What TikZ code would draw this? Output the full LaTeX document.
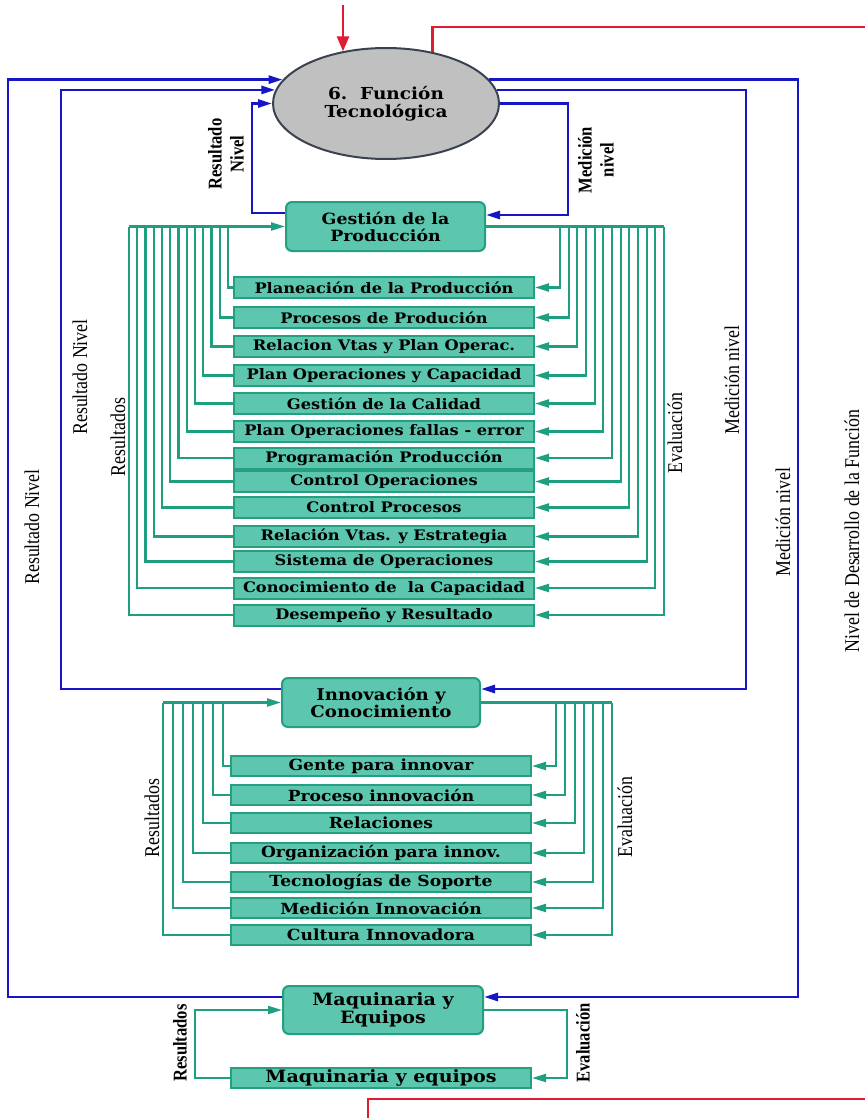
\documentclass[tikz,border=0pt]{standalone}
\usepackage{fontspec}
\setmainfont{Liberation Serif}
\newfontfamily\boxfont{DejaVu Serif}[FakeStretch=1.12]
\newfontfamily\lblfont{Liberation Serif}[FakeStretch=0.85]
\usetikzlibrary{arrows.meta,shapes.geometric}

\definecolor{flowblue}{RGB}{22,22,200}
\definecolor{flowgreen}{RGB}{30,160,128}
\definecolor{boxfill}{RGB}{92,198,174}
\definecolor{boxedge}{RGB}{38,158,128}
\definecolor{flowred}{RGB}{226,28,48}
\definecolor{ovalfill}{RGB}{192,192,192}
\definecolor{ovaledge}{RGB}{58,66,78}

\begin{document}
\begin{tikzpicture}[x=1pt,y=-1pt,
  bline/.style={draw=flowblue,line width=2.8pt},
  gline/.style={draw=flowgreen,line width=2.2pt},
  rline/.style={draw=flowred,line width=2.8pt},
  tip/.style={-{Triangle[length=14pt,width=8pt]}},
  mainbox/.style={draw=boxedge,fill=boxfill,line width=2pt,rounded corners=6pt,
    minimum width=199pt,minimum height=49pt,inner sep=0pt,align=center,
    font=\boxfont\bfseries\fontsize{15.5}{17}\selectfont},
  subbox/.style={draw=boxedge,fill=boxfill,line width=2pt,
    minimum width=300pt,minimum height=21pt,inner sep=0pt,
    font=\boxfont\bfseries\fontsize{14.5}{15}\selectfont},
  innitem/.style={subbox,minimum height=20pt,
    font=\boxfont\bfseries\fontsize{15.3}{16}\selectfont},
  lbl/.style={rotate=90,inner sep=0pt,font=\lblfont\fontsize{21}{22}\selectfont},
  blbl/.style={rotate=90,inner sep=0pt,align=center,
    font=\lblfont\bfseries\fontsize{19.5}{22}\selectfont},
]
\useasboundingbox (0,0) rectangle (865,1118);

% ---- central function
\node[ellipse,draw=ovaledge,fill=ovalfill,line width=2pt,minimum width=226pt,
  minimum height=111pt,inner sep=0pt,align=center,
  font=\boxfont\bfseries\fontsize{16.5}{18}\selectfont] (e) at (386,103.5)
  {6.\ \ Función\\Tecnológica};

% ---- main blocks
\node[mainbox] (gest) at (385.5,226.5) {Gestión de la\\Producción};
\node[mainbox,minimum width=198pt,font=\boxfont\bfseries\fontsize{16.2}{17}\selectfont]
  (inn) at (381,702.5) {Innovación y\\Conocimiento};
\node[mainbox,minimum width=200pt,minimum height=48pt,
  font=\boxfont\bfseries\fontsize{17}{17.5}\selectfont]
  (maq) at (383,1010) {Maquinaria y\\Equipos};

% ---- production items
\node[subbox] (p0) at (384,287.5) {Planeación de la Producción};
\node[subbox] (p1) at (384,317.5) {Procesos de Produción};
\node[subbox] (p2) at (384,346.5) {Relacion Vtas y Plan Operac.};
\node[subbox] (p3) at (384,375.5) {Plan Operaciones y Capacidad};
\node[subbox] (p4) at (384,403.5) {Gestión de la Calidad};
\node[subbox] (p5) at (384,431.5) {Plan Operaciones fallas - error};
\node[subbox] (p6) at (384,458) {Programación Producción};
\node[subbox] (p7) at (384,481.5) {Control Operaciones};
\node[subbox] (p8) at (384,507.5) {Control Procesos};
\node[subbox] (p9) at (384,536.5) {Relación Vtas. y Estrategia};
\node[subbox] (p10) at (384,561.5) {Sistema de Operaciones};
\node[subbox] (p11) at (384,588) {Conocimiento de\ \ la Capacidad};
\node[subbox] (p12) at (384,615) {Desempeño y Resultado};

% ---- innovation items
\node[innitem] (q0) at (381,766) {Gente para innovar};
\node[innitem] (q1) at (381,795) {Proceso innovación};
\node[innitem] (q2) at (381,823) {Relaciones};
\node[innitem] (q3) at (381,853) {Organización para innov.};
\node[innitem] (q4) at (381,882) {Tecnologías de Soporte};
\node[innitem] (q5) at (381,908) {Medición Innovación};
\node[innitem] (q6) at (381,935) {Cultura Innovadora};

% ---- machinery item
\node[subbox,minimum height=20pt,font=\boxfont\bfseries\fontsize{17}{17.5}\selectfont]
  (m0) at (381,1078) {Maquinaria y equipos};

% ---- production feedback combs
\foreach \i in {0,...,12}{
  \coordinate (gl\i) at ({228-8.25*\i},226.5);
  \coordinate (gr\i) at ({560+8.67*\i},226.5);
  \draw[gline] (p\i.west) -| (gl\i);
  \draw[gline,tip] (gr\i) |- (p\i.east);
}
\draw[gline,tip] (gl12) -- (gest.west);
\draw[gline] (gest.east) -- (gr12);

% ---- innovation feedback combs
\foreach \i in {0,...,6}{
  \coordinate (il\i) at ({223-10*\i},702.5);
  \coordinate (ir\i) at ({556+9.33*\i},702.5);
  \draw[gline] (q\i.west) -| (il\i);
  \draw[gline,tip] (ir\i) |- (q\i.east);
}
\draw[gline,tip] (il6) -- (inn.west);
\draw[gline] (inn.east) -- (ir6);

% ---- machinery loop
\coordinate (ml) at (195,1010);
\coordinate (mr) at (567,1010);
\draw[gline,tip] (m0.west) -| (ml) -- (maq.west);
\draw[gline,tip] (maq.east) -| (mr) |- (m0.east);

% ---- level loops (blue)
\coordinate (bLo) at (8,0);
\coordinate (bLi) at (61,0);
\coordinate (bLs) at (252,0);
\coordinate (bRo) at (798,997);
\coordinate (bRi) at (746,689);
\coordinate (bRs) at (568,215);
\draw[bline,tip] ([yshift=13pt]maq.west) -| (e.167 -| bLo) -- (e.167);
\draw[bline,tip] ([yshift=13.5pt]inn.west) -| (e.173 -| bLi) -- (e.173);
\draw[bline,tip] ([yshift=13.5pt]gest.west) -| (e.west -| bLs) -- (e.west);
\draw[bline,tip] (e.13) -| (bRo) -- ([yshift=13pt]maq.east);
\draw[bline,tip] (e.7) -| (bRi) -- ([yshift=13.5pt]inn.east);
\draw[bline,tip] (e.east) -| (bRs) -- ([yshift=11.5pt]gest.east);

% ---- red input / output
\coordinate (rin) at (343,5);
\coordinate (rout) at (865,27);
\coordinate (rb0) at (368,1118);
\coordinate (rb1) at (865,1099);
\draw[rline,-{Triangle[length=15pt,width=12pt]}] (rin) -- (rin |- e.130);
\draw[rline] (e.48) |- (rout);
\draw[rline] (rb0) |- (rb1);

% ---- labels
\node[blbl] (lrn) at (226,154) {Resultado\\Nivel};
\node[blbl] (lmn) at (596,160) {Medición\\nivel};
\node[lbl] (lrn1) at (80,377) {Resultado Nivel};
\node[lbl] (lrn2) at (32,527) {Resultado Nivel};
\node[lbl] (lres1) at (118,437) {Resultados};
\node[lbl] (lev1) at (675,433) {Evaluación};
\node[lbl] (lmn1) at (732,380) {Medición nivel};
\node[lbl] (lmn2) at (783,522) {Medición nivel};
\node[lbl] (lniv) at (852,531) {Nivel de Desarrollo de la Función};
\node[lbl] (lres2) at (152,818) {Resultados};
\node[lbl] (lev2) at (625,817) {Evaluación};
\node[blbl] (lres3) at (180,1043) {Resultados};
\node[blbl] (lev3) at (583,1043) {Evaluación};
\end{tikzpicture}
\end{document}
